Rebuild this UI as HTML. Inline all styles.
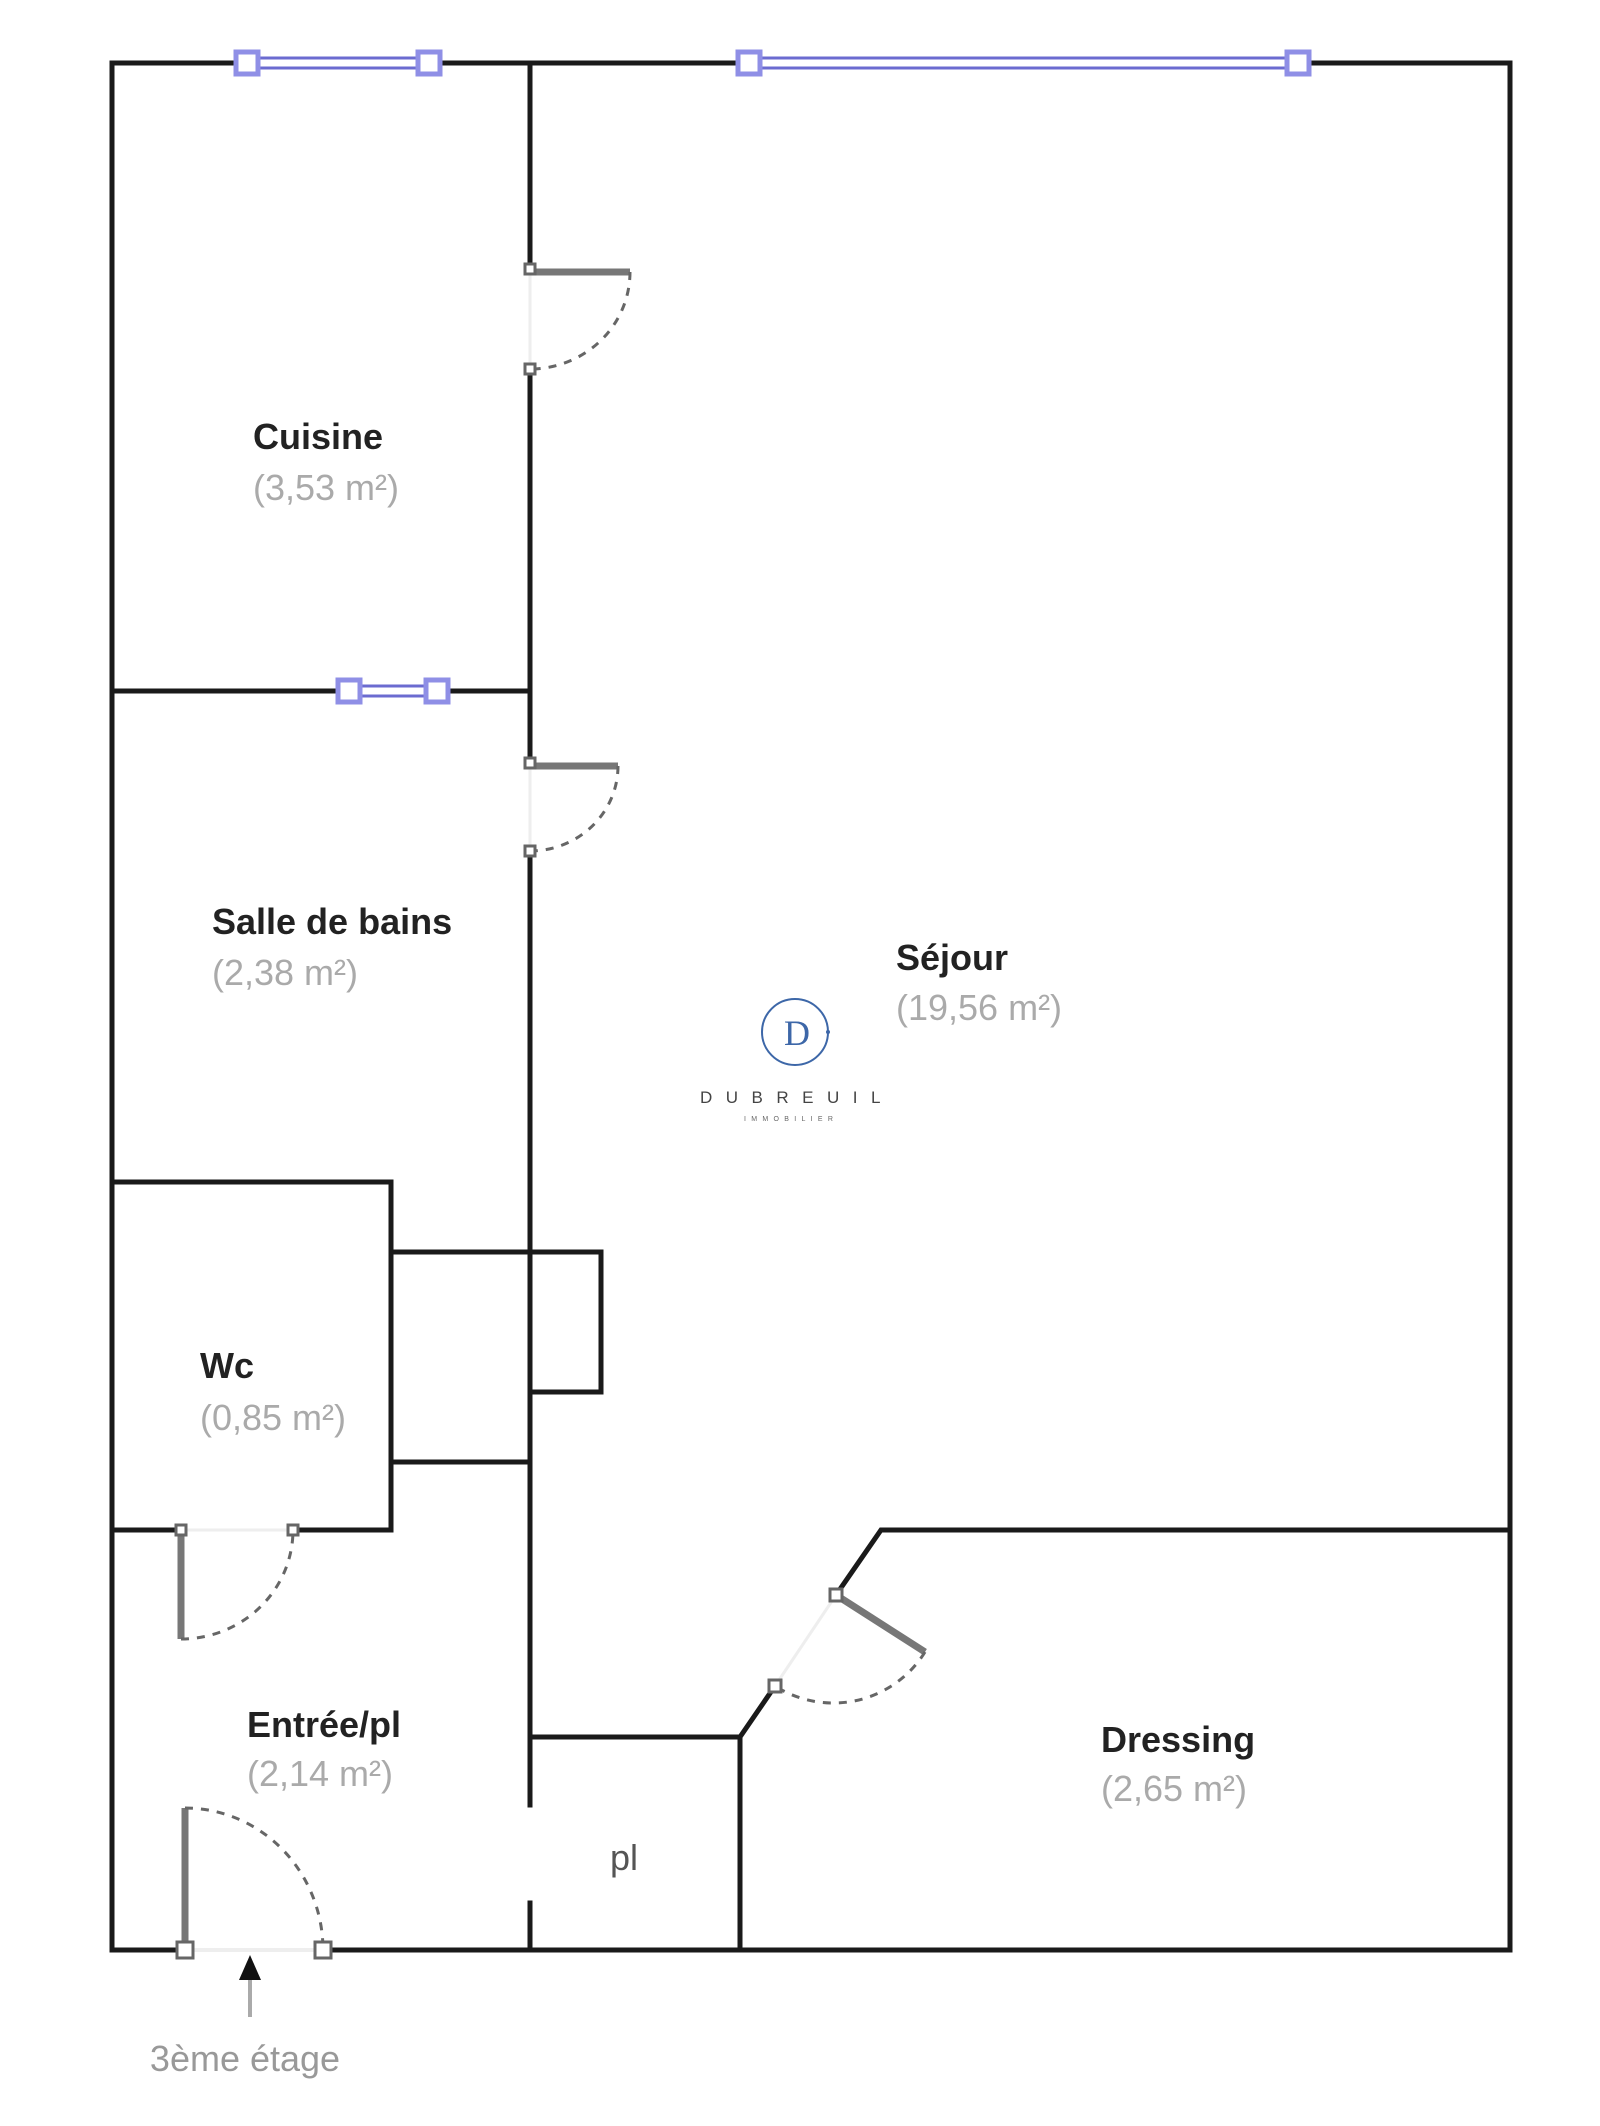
<!DOCTYPE html>
<html><head><meta charset="utf-8"><style>
html,body{margin:0;padding:0;background:#fff;}
svg{display:block}
.w{stroke:#1a1a1a;stroke-width:5;fill:none;stroke-linecap:square}
.leaf{stroke:#777;stroke-width:7;fill:none}
.arc{stroke:#666;stroke-width:3;fill:none;stroke-dasharray:8 8}
.jamb{fill:#fff;stroke:#666;stroke-width:3}
.win{stroke:#6b6bd0;stroke-width:3;fill:none}
.wsq{fill:#fff;stroke:#8f8fe6;stroke-width:5}
.t{font-family:"Liberation Sans",sans-serif;font-weight:bold;font-size:36px;fill:#222}
.a{font-family:"Liberation Sans",sans-serif;font-size:36px;fill:#aaa}
</style></head><body>
<svg width="1600" height="2126" viewBox="0 0 1600 2126" xmlns="http://www.w3.org/2000/svg">
<polyline class="w" points="112,63 1510,63 1510,1950 112,1950 112,63"/>
<rect x="240" y="55" width="196" height="16" fill="#fff"/>
<line class="win" x1="247" y1="58" x2="429" y2="58"/><line class="win" x1="247" y1="68" x2="429" y2="68"/>
<rect class="wsq" x="236" y="52" width="22" height="22"/><rect class="wsq" x="418" y="52" width="22" height="22"/>
<rect x="741" y="55" width="565" height="16" fill="#fff"/>
<line class="win" x1="749" y1="58" x2="1298" y2="58"/><line class="win" x1="749" y1="68" x2="1298" y2="68"/>
<rect class="wsq" x="738" y="52" width="22" height="22"/><rect class="wsq" x="1287" y="52" width="22" height="22"/>
<line class="w" x1="530" y1="63" x2="530" y2="269"/>
<line class="w" x1="530" y1="369" x2="530" y2="763"/>
<line class="w" x1="530" y1="851" x2="530" y2="1805"/>
<line class="w" x1="530" y1="1903" x2="530" y2="1950"/>
<line class="w" x1="112" y1="691" x2="530" y2="691"/>
<rect x="342" y="683" width="100" height="16" fill="#fff"/>
<line class="win" x1="349" y1="686" x2="437" y2="686"/><line class="win" x1="349" y1="696" x2="437" y2="696"/>
<rect class="wsq" x="338" y="680" width="22" height="22"/><rect class="wsq" x="426" y="680" width="22" height="22"/>
<line x1="530" y1="269" x2="530" y2="369" stroke="#eee" stroke-width="3"/>
<line class="leaf" x1="530" y1="272" x2="630" y2="272"/>
<path class="arc" d="M630,272 A100,97 0 0 1 530,369"/>
<rect class="jamb" x="525" y="264" width="10" height="10"/><rect class="jamb" x="525" y="364" width="10" height="10"/>
<line x1="530" y1="763" x2="530" y2="851" stroke="#eee" stroke-width="3"/>
<line class="leaf" x1="530" y1="766" x2="618" y2="766"/>
<path class="arc" d="M618,766 A88,85 0 0 1 530,851"/>
<rect class="jamb" x="525" y="758" width="10" height="10"/><rect class="jamb" x="525" y="846" width="10" height="10"/>
<polyline class="w" points="112,1182 391,1182 391,1530 112,1530"/>
<polyline class="w" points="391,1252 601,1252 601,1392 530,1392"/>
<line class="w" x1="391" y1="1462" x2="530" y2="1462"/>
<rect x="178" y="1523" width="118" height="14" fill="#fff"/>
<line x1="181" y1="1530" x2="293" y2="1530" stroke="#eee" stroke-width="3"/>
<line class="leaf" x1="181" y1="1530" x2="181" y2="1639"/>
<path class="arc" d="M181,1639 A112,109 0 0 0 293,1530"/>
<rect class="jamb" x="176" y="1525" width="10" height="10"/><rect class="jamb" x="288" y="1525" width="10" height="10"/>
<polyline class="w" points="1510,1530 881,1530 836,1595"/>
<polyline class="w" points="775,1686 740,1737 740,1950"/>
<line class="w" x1="530" y1="1737" x2="740" y2="1737"/>
<line x1="836" y1="1595" x2="775" y2="1686" stroke="#eee" stroke-width="3"/>
<line class="leaf" x1="836" y1="1595" x2="925" y2="1652"/>
<path class="arc" d="M925,1652 A108,108 0 0 1 775,1686"/>
<rect class="jamb" x="830" y="1589" width="12" height="12"/><rect class="jamb" x="769" y="1680" width="12" height="12"/>
<rect x="183" y="1942" width="142" height="16" fill="#fff"/>
<line x1="186" y1="1950" x2="323" y2="1950" stroke="#eee" stroke-width="4"/>
<line class="leaf" x1="185" y1="1808" x2="185" y2="1950"/>
<path class="arc" d="M185,1808 A138,142 0 0 1 323,1950"/>
<rect class="jamb" x="177" y="1942" width="16" height="16"/><rect class="jamb" x="315" y="1942" width="16" height="16"/>
<line x1="250" y1="1972" x2="250" y2="2017" stroke="#aaa" stroke-width="4"/>
<polygon points="250,1955 239,1980 261,1980" fill="#111"/>
<text x="245" y="2071" text-anchor="middle" style="font-family:'Liberation Sans',sans-serif;font-size:36px;fill:#999">3ème étage</text>
<text class="t" x="253" y="449">Cuisine</text><text class="a" x="253" y="500">(3,53 m²)</text>
<text class="t" x="212" y="934">Salle de bains</text><text class="a" x="212" y="985">(2,38 m²)</text>
<text class="t" x="896" y="970">Séjour</text><text class="a" x="896" y="1020">(19,56 m²)</text>
<text class="t" x="200" y="1378">Wc</text><text class="a" x="200" y="1430">(0,85 m²)</text>
<text class="t" x="247" y="1737">Entrée/pl</text><text class="a" x="247" y="1786">(2,14 m²)</text>
<text class="t" x="1101" y="1752">Dressing</text><text class="a" x="1101" y="1801">(2,65 m²)</text>
<text x="624" y="1870" text-anchor="middle" style="font-family:'Liberation Sans',sans-serif;font-size:36px;fill:#555">pl</text>
<circle cx="795" cy="1032" r="33" fill="none" stroke="#3d67a8" stroke-width="2"/>
<circle cx="828" cy="1032" r="2" fill="#3d67a8"/>
<text x="797" y="1045" text-anchor="middle" style="font-family:'Liberation Serif',serif;font-size:36px;fill:#3d67a8">D</text>
<text x="700" y="1103" style="font-family:'Liberation Sans',sans-serif;font-size:17px;fill:#444;letter-spacing:13.5px">DUBREUIL</text>
<text x="744" y="1121" style="font-family:'Liberation Sans',sans-serif;font-size:7px;fill:#666;letter-spacing:5.3px">IMMOBILIER</text>
</svg>
</body></html>
